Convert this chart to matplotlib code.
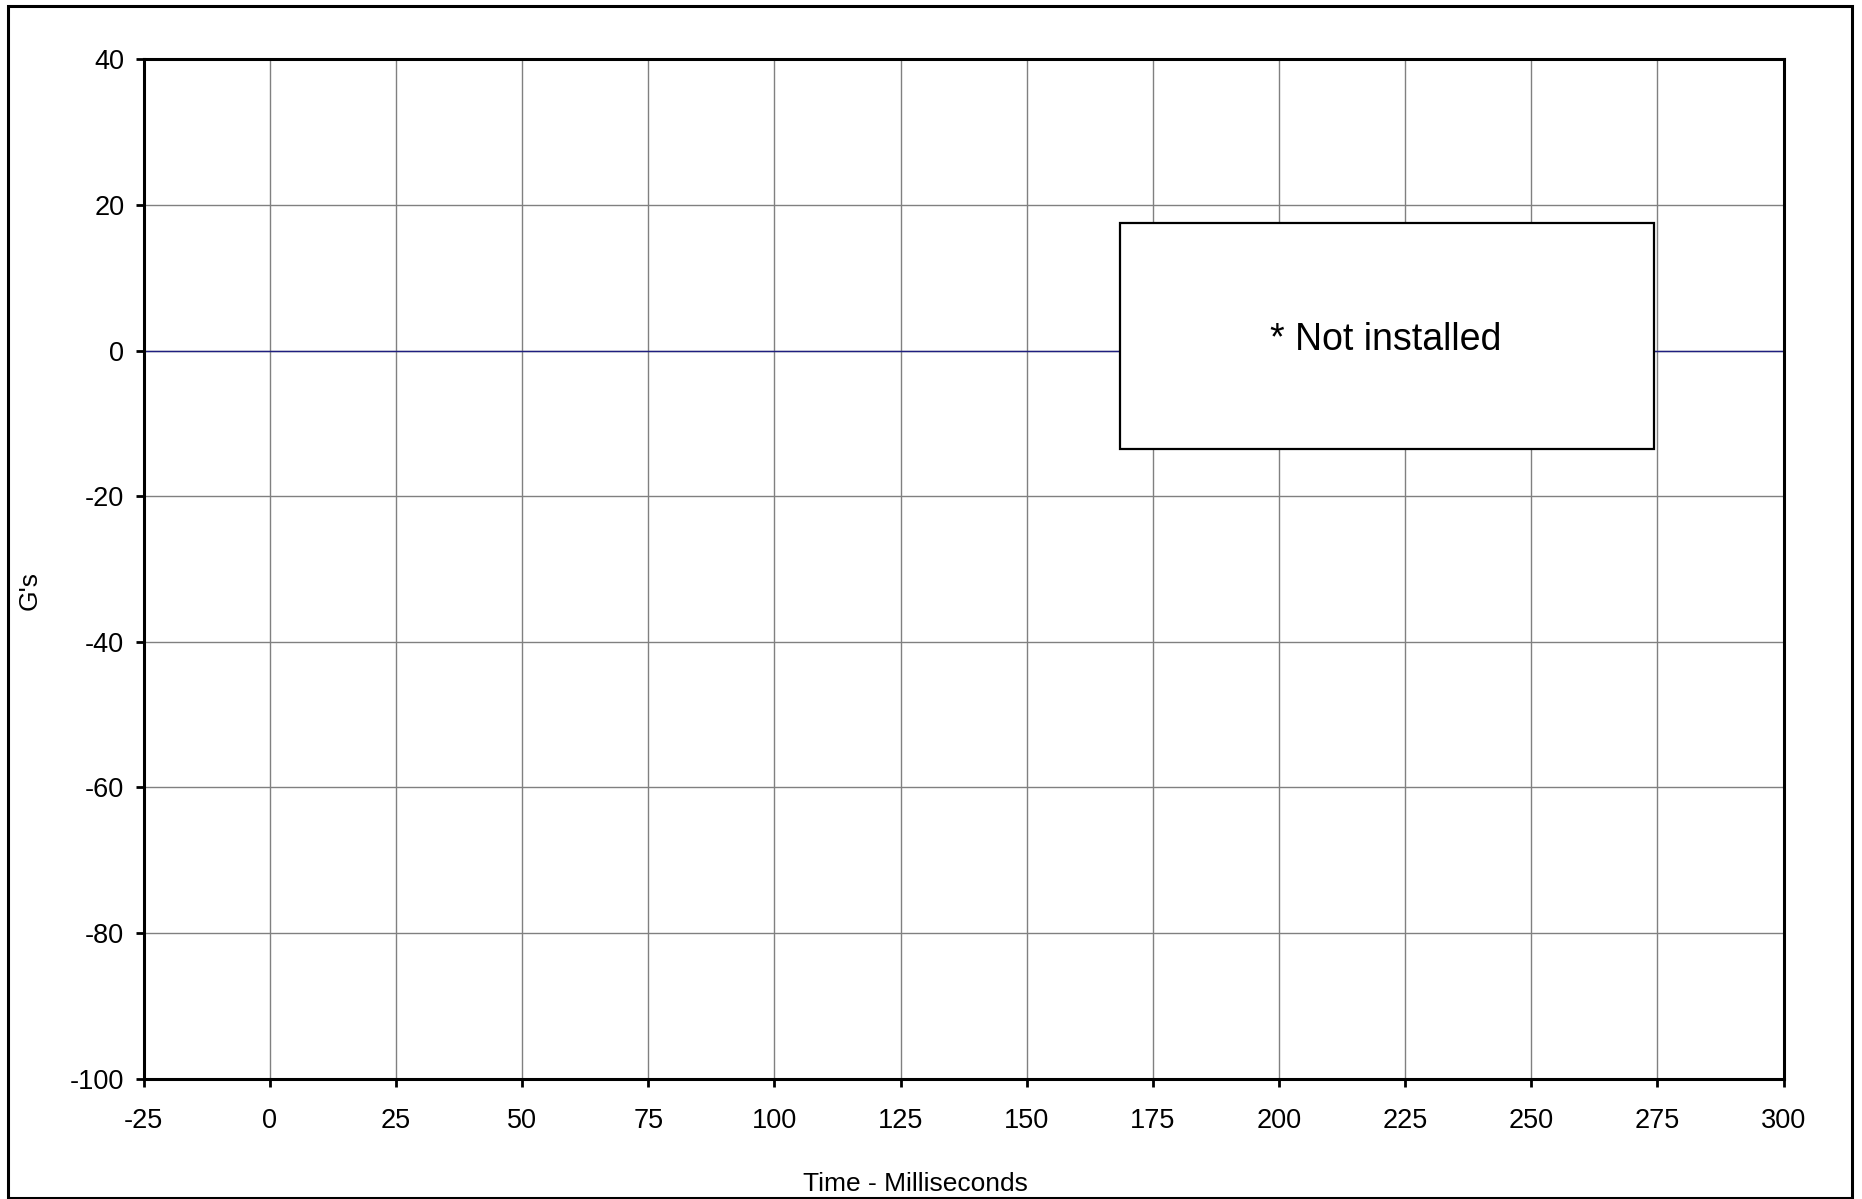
import matplotlib
matplotlib.use('Agg')
import matplotlib.pyplot as plt
from matplotlib.patches import Rectangle

plt.rcParams['font.family'] = ['Liberation Sans', 'DejaVu Sans']
plt.rcParams['axes.unicode_minus'] = False

# data: sensor not installed, flat trace at zero
time_ms = [-25, 300]
gs = [0, 0]
x_ticks = [-25, 0, 25, 50, 75, 100, 125, 150, 175, 200, 225, 250, 275, 300]
y_ticks = [-100, -80, -60, -40, -20, 0, 20, 40]
note = "* Not installed"

my_dpi = 100
fig = plt.figure(figsize=(1862/my_dpi, 1199/my_dpi), dpi=my_dpi)
ax = fig.add_axes([0.0772, 0.1005, 0.8807, 0.85])

ax.plot(time_ms, gs, color='#1f1f80', linewidth=1)
ax.set_xlim(-25, 300)
ax.set_ylim(-100, 40)
ax.set_xticks(x_ticks)
ax.set_yticks(y_ticks)
ax.grid(True, color='#808080', linewidth=1)
ax.set_axisbelow(True)
for s in ax.spines.values():
    s.set_linewidth(2.2)
ax.tick_params(direction='out', length=6, width=2, labelsize=19.5, pad=8)
ax.tick_params(axis='x', pad=15)

# note box
box = Rectangle((1120/1862, 1 - 449/1199), (1654-1120)/1862, (449-223)/1199,
                transform=fig.transFigure, facecolor='white', edgecolor='black',
                linewidth=1.6, zorder=4)
ax.add_patch(box)
box.set_clip_on(False)
fig.text(1386/1862, 1 - 340/1199, note, fontsize=27,
         ha='center', va='center', zorder=5)

fig.text(915/1862, 1 - 1184/1199, 'Time - Milliseconds', fontsize=19,
         ha='center', va='center')
fig.text(30/1862, 1 - 590/1199, "G's", fontsize=19, rotation=90,
         ha='center', va='center')

# outer border
fig.patches.append(Rectangle((8/1862, 1/1199), (1852-8)/1862, (1193-1)/1199,
                             transform=fig.transFigure, fill=False,
                             edgecolor='black', linewidth=2.2))

plt.savefig('out.png', dpi=my_dpi)
